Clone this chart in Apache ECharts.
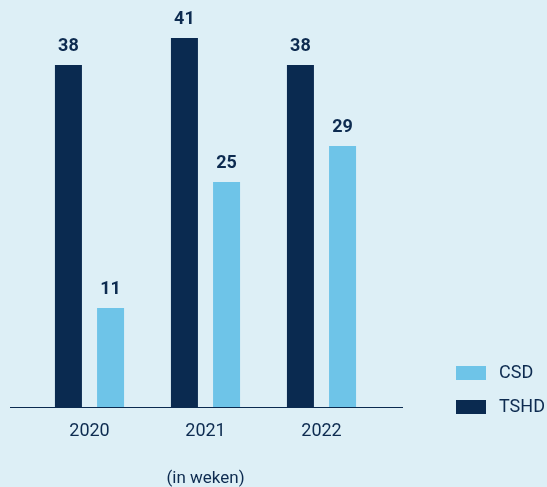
<!DOCTYPE html>
<html>
<head>
<meta charset="utf-8">
<script src="https://cdn.jsdelivr.net/npm/echarts@6/dist/echarts.min.js"></script>
<style>
html,body{margin:0;padding:0;background:#ddeff6;}
#c{width:547px;height:487px;}
</style>
</head>
<body>
<div id="c"></div>
<script>
var categories = ['2020', '2021', '2022'];
var tshd = [38, 41, 38];
var csd = [11, 25, 29];
var unitLabel = '(in weken)';

var navy = '#0a2a50';
var light = '#6ec4e8';
var textColor = '#0d2b50';
var font = 'Roboto';

var chart = echarts.init(document.getElementById('c'));
var labelStyle = {
  show: true, position: 'top', distance: 10,
  color: textColor, fontFamily: font, fontWeight: 'bold', fontSize: 18
};
chart.setOption({
  backgroundColor: '#ddeff6',
  animation: false,
  grid: { left: 31.5, right: 167.5, top: 2, bottom: 80, containLabel: false, outerBoundsMode: 'none' },
  legend: {
    orient: 'vertical', left: 456, top: 364, padding: 0,
    itemWidth: 30, itemHeight: 14, itemGap: 16,
    data: ['CSD', 'TSHD'],
    icon: 'rect',
    textStyle: { color: textColor, fontFamily: font, fontSize: 18, padding: [0, 0, 0, 8] }
  },
  xAxis: {
    type: 'category', data: categories,
    axisLine: { show: false },
    axisTick: { show: false },
    axisLabel: { color: textColor, fontFamily: font, fontSize: 18, margin: 15 },
    name: unitLabel, nameLocation: 'middle', nameGap: 63,
    nameTextStyle: { color: textColor, fontFamily: font, fontSize: 17 }
  },
  yAxis: {
    type: 'value', min: 0, max: 45,
    show: false
  },
  graphic: [{
    type: 'line', shape: { x1: 10, y1: 407.5, x2: 403, y2: 407.5 },
    style: { stroke: navy, lineWidth: 1 }
  }],
  series: [
    { name: 'TSHD', type: 'bar', data: tshd, barWidth: 27, barGap: '56%',
      itemStyle: { color: navy }, label: labelStyle },
    { name: 'CSD', type: 'bar', data: csd, barWidth: 27,
      itemStyle: { color: light }, label: labelStyle }
  ]
});
</script>
</body>
</html>
